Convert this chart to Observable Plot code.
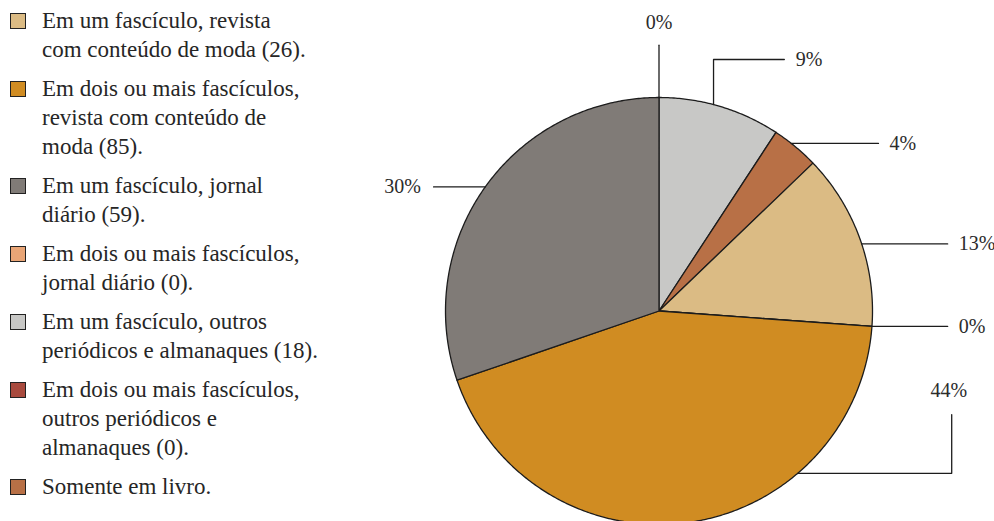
<!DOCTYPE html>
<html><head><meta charset="utf-8">
<script src="https://cdn.jsdelivr.net/npm/d3@7"></script>
<script src="https://cdn.jsdelivr.net/npm/@observablehq/plot@0.6"></script>
<style>
body{margin:0;background:#fff;}
#wrap{position:relative;width:994px;height:521px;overflow:hidden;font-family:"Liberation Serif","Times New Roman",Times,"DejaVu Serif",serif;color:#262626;}
#chart{position:absolute;left:0;top:0;}
#legend{position:absolute;left:10px;top:6px;}
.item{display:flex;align-items:flex-start;margin-bottom:10px;font-size:23px;line-height:29px;}
.sw{width:14px;height:14px;border:1.5px solid #222;margin-top:7px;margin-right:16px;flex:none;}
</style></head><body>
<div id="wrap"><div id="chart"></div><div id="legend"></div></div>
<script>
// legend order
const categories = ["rev1","revN","jor1","jorN","out1","outN","livro"];
const legendLabels = [
  "Em um fascículo, revista\ncom conteúdo de moda (26).",
  "Em dois ou mais fascículos,\nrevista com conteúdo de\nmoda (85).",
  "Em um fascículo, jornal\ndiário (59).",
  "Em dois ou mais fascículos,\njornal diário (0).",
  "Em um fascículo, outros\nperiódicos e almanaques (18).",
  "Em dois ou mais fascículos,\noutros periódicos e\nalmanaques (0).",
  "Somente em livro."
];
const counts = [26, 85, 59, 0, 18, 0, 7];
const colors = ["#DBBB84","#D08C22","#807B77","#E9A576","#C8C8C6","#A84A3E","#B87046"];
// pie order, clockwise from 12 o'clock
const pieOrder = ["outN","out1","livro","rev1","jorN","revN","jor1"];

const FONT = '"Liberation Serif","Times New Roman",Times,"DejaVu Serif",serif';

// legend (HTML)
const legend = d3.select("#legend");
categories.forEach((c, i) => {
  const it = legend.append("div").attr("class", "item");
  it.append("div").attr("class", "sw").style("background", colors[i]);
  it.append("div").html(legendLabels[i].replace(/\n/g, "<br>"));
});

// slices
const total = d3.sum(counts);
let acc = 0;
const slices = pieOrder.map(k => {
  const i = categories.indexOf(k);
  const a0 = acc / total * 2 * Math.PI;
  acc += counts[i];
  const a1 = acc / total * 2 * Math.PI;
  return {key: k, value: counts[i], pct: Math.round(counts[i] / total * 100), a0, a1, mid: (a0 + a1) / 2};
});
const poly = [];
for (const s of slices) {
  poly.push({key: s.key, x: 0, y: 0});
  const n = Math.max(1, Math.ceil((s.a1 - s.a0) / (Math.PI / 360)));
  for (let j = 0; j <= n; j++) {
    const a = s.a0 + (s.a1 - s.a0) * j / n;
    poly.push({key: s.key, x: Math.sin(a), y: Math.cos(a)});
  }
  poly.push({key: s.key, x: 0, y: 0});
}

// leader layout (label placement, in radius units)
const deg = Math.PI / 180;
const sx = s => Math.sin(s.mid), cy = s => Math.cos(s.mid);
const at = a => [Math.sin(a * deg), Math.cos(a * deg)];
const layout = {
  outN:  {path: s => [[0, 1], [0, 1.245]], label: s => [0, 1.35], anchor: "middle"},
  out1:  {path: s => [at(14.8), [at(14.8)[0], 1.178], [0.587, 1.178]], label: s => [0.64, 1.178], anchor: "start"},
  livro: {path: s => [at(38.3), [1.028, at(38.3)[1]]], label: s => [1.08, at(38.3)[1]], anchor: "start"},
  rev1:  {path: s => [at(71.7), [1.352, at(71.7)[1]]], label: s => [1.404, at(71.7)[1]], anchor: "start"},
  jorN:  {path: s => [[sx(s), cy(s)], [1.352, cy(s)]], label: s => [1.404, cy(s)], anchor: "start"},
  revN:  {path: s => [at(139.5), [1.371, at(139.5)[1]], [1.371, -0.485]], label: s => [1.357, -0.373], anchor: "middle"},
  jor1:  {path: s => [[sx(s), cy(s)], [-1.056, cy(s)]], label: s => [-1.115, cy(s)], anchor: "end"}
};
const leaders = [], labels = [];
for (const s of slices) {
  const L = layout[s.key];
  L.path(s).forEach(([x, y]) => leaders.push({key: s.key, x, y}));
  const [lx, ly] = L.label(s);
  labels.push({key: s.key, x: lx, y: ly, text: s.pct + "%", anchor: L.anchor});
}

const textOpts = {x: "x", y: "y", text: "text", fontSize: 20, fontFamily: FONT, fill: "#2b2b2b"};
const chart = Plot.plot({
  width: 994, height: 521,
  x: {domain: [-1, 1], range: [445, 872], axis: null},
  y: {domain: [-1, 1], range: [524, 97], axis: null},
  color: {domain: categories, range: colors},
  style: {background: "transparent", overflow: "visible"},
  marks: [
    Plot.line(poly, {x: "x", y: "y", z: "key", fill: "key", stroke: "#1c1c1c", strokeWidth: 1.3, curve: "linear"}),
    Plot.line(leaders, {x: "x", y: "y", z: "key", stroke: "#1c1c1c", strokeWidth: 1.3}),
    Plot.text(labels.filter(d => d.anchor === "start"), {...textOpts, textAnchor: "start"}),
    Plot.text(labels.filter(d => d.anchor === "middle"), {...textOpts, textAnchor: "middle"}),
    Plot.text(labels.filter(d => d.anchor === "end"), {...textOpts, textAnchor: "end"})
  ]
});
document.getElementById("chart").appendChild(chart);
</script>
</body></html>
